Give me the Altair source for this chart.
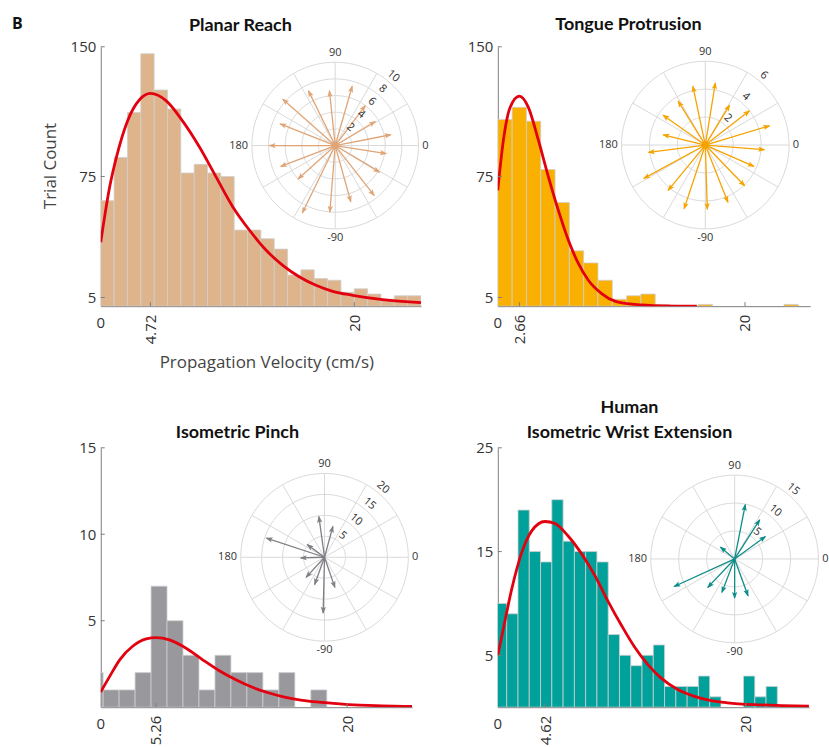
import altair as alt
import pandas as pd

FONT = "Open Sans"
TITLE_FONT = "Lato"
RED = "#E3000F"
AXIS_GRAY = "#7d7d7d"
GRID_GRAY = "#d9d9d9"
LABEL_COLOR = "#333333"

# ---------------- Planar Reach ----------------
planar_counts = [61, 86, 112, 146, 125, 114, 77, 82, 77, 75, 44, 44, 39, 33,
                 18, 21, 16, 15, 8, 10, 7, 4, 6, 6]
planar_bin_start = 1.0
planar_bin_width = 1.0
planar_fit_x = [1.0, 1.67, 2.17, 3.0, 3.92, 4.72, 5.91, 7.03, 8.41, 9.65, 10.9,
                12.15, 13.4, 14.64, 15.9, 17.13, 18.38, 19.88, 22.12, 25.0]
planar_fit_y = [37, 69, 86, 107, 119.5, 123, 118.7, 108.2, 91.9, 74.6, 57.4,
                43.9, 32.3, 23.6, 16.9, 12.1, 8.6, 6.3, 3.8, 2.1]
planar_mode = 4.72
planar_yticks = [5, 75, 150]
planar_dir_deg = [138.5, 116, 96, 74, 53, 31, 11, -9, -31, -52, -74.5, -94.6,
                  -116, -138, -159, 180, 158.5]
planar_dir_len = [8.4, 7.3, 6.6, 7.4, 6.0, 5.6, 6.8, 6.2, 6.2, 7.6, 7.0, 8.0,
                  9.0, 6.0, 7.0, 7.9, 7.1]
planar_rings = [2, 4, 6, 8, 10]

# ---------------- Tongue Protrusion ----------------
tongue_counts = [108, 115, 107, 79, 60, 32, 25, 15, 4, 6, 7, 1, 0, 0, 1, 0, 0,
                 0, 0, 0, 1]
tongue_bin_start = 1.0
tongue_bin_width = 1.1
tongue_fit_x = [1.0, 1.43, 1.95, 2.66, 3.35, 4.12, 4.89, 5.65, 6.42, 7.19, 7.96,
                8.98, 10.0, 11.5, 13.6, 16.3]
tongue_fit_y = [67, 96, 115, 121.5, 115, 96, 74.8, 55.5, 38.2, 24.7, 15.0, 7.3,
                2.9, 1.0, 0.2, 0.0]
tongue_mode = 2.66
tongue_yticks = [5, 75, 150]
tongue_dir_deg = [121.7, 101.9, 80.8, 58.7, 37.8, 16.7, -4.5, -23.7, -46, -68.4,
                  -88.2, -108.4, -129.3, -151.5, -172.7, 166.3, 144.7]
tongue_dir_len = [3.7, 4.3, 4.5, 3.35, 4.0, 4.8, 4.25, 3.8, 4.05, 4.4, 4.6, 4.8,
                  4.2, 5.0, 4.1, 3.1, 3.7]
tongue_rings = [2, 4, 6]

# ---------------- Isometric Pinch ----------------
pinch_counts = [2, 1, 1, 2, 7, 5, 3, 1, 3, 2, 2, 1, 2, 0, 1]
pinch_bin_start = -0.05
pinch_bin_width = 1.232
pinch_fit_x = [1.0, 1.69, 2.46, 3.48, 4.51, 5.26, 6.30, 7.58, 8.86, 10.14, 11.42,
               12.70, 13.98, 15.26, 16.54, 17.82, 20.13, 22.7, 25.0]
pinch_fit_y = [0.88, 1.78, 2.74, 3.54, 3.95, 4.02, 3.89, 3.41, 2.74, 2.11, 1.59,
               1.15, 0.82, 0.57, 0.40, 0.29, 0.15, 0.08, 0.04]
pinch_mode = 5.26
pinch_yticks = [5, 10, 15]
pinch_dir_deg = [161.7, 97.9, 74.8, 143.8, -178.4, -132.5, -110, -71, -91.4]
pinch_dir_len = [14.6, 9.8, 7.6, 5.1, 5.7, 6.5, 6.9, 7.6, 13.3]
pinch_rings = [5, 10, 15, 20]

# ---------------- Human Isometric Wrist Extension ----------------
wrist_counts = [10, 9, 19, 15, 14, 20, 16, 15, 15, 14, 7, 5, 4, 5, 6, 2, 2, 2, 3,
                1, 0, 0, 3, 1, 2]
wrist_bin_start = 0.82
wrist_bin_width = 0.864
wrist_fit_x = [1.0, 1.43, 2.07, 2.83, 3.60, 4.62, 5.38, 6.39, 7.41, 8.43, 9.45,
               10.47, 11.48, 12.5, 13.52, 14.79, 16.06, 17.34, 18.6, 21.15, 24.84]
wrist_fit_y = [4.98, 7.6, 11.4, 14.9, 17.0, 17.9, 17.7, 16.5, 14.8, 12.7, 10.2,
               7.9, 5.8, 4.1, 2.8, 1.7, 1.05, 0.64, 0.42, 0.22, 0.1]
wrist_mode = 4.62
wrist_yticks = [5, 15, 25]
wrist_dir_deg = [78.9, 57.3, 36.1, 140.2, -155.5, -133.3, -110.8, -90, -70]
wrist_dir_len = [9.9, 8.3, 6.8, 3.3, 11.9, 7.0, 6.4, 7.0, 7.0]
wrist_rings = [5, 10, 15]

X_START = 1.0          # leftmost axis position, labelled "0"
X_TICK_HIGH = 20
SPOKE_DEGS = list(range(0, 360, 30))
CIRCLE_STEPS = list(range(0, 361, 3))


def panel(title, counts, bin_start, bin_width, fit_x, fit_y, mode, yticks, ymax,
          dir_deg, dir_len, rings, bar_color, arrow_color, width, height, x_end,
          center, radius_px, title_pos, center_dot=False, first=False):
    W, H = width, height
    xs = alt.Scale(domain=[X_START, x_end], nice=False, zero=False)
    ys = alt.Scale(domain=[0, ymax], nice=False, zero=True)

    x_axis_kw = dict(values=[mode, X_TICK_HIGH], labelExpr="'' + datum.value",
                     labelAngle=-90, labelPadding=8, labelFont=FONT,
                     labelFontSize=15, labelColor=LABEL_COLOR, ticks=False,
                     tickSize=0, grid=False, domainColor=AXIS_GRAY,
                     labelOverlap=False, labelFlush=False, title=None)
    y_axis_kw = dict(values=yticks, labelExpr="'' + datum.value", labelPadding=5,
                     labelFont=FONT, labelFontSize=15, labelColor=LABEL_COLOR,
                     ticks=False, tickSize=0, grid=False, domainColor=AXIS_GRAY,
                     title=None)
    if first:
        x_axis_kw.update(title="Propagation Velocity (cm/s)", titleFont=FONT,
                         titleFontSize=17, titleFontWeight="normal",
                         titleColor="#444444", titleX=166, titleY=56,
                         titleBaseline="middle", titleAlign="center")
        y_axis_kw.update(title="Trial Count", titleFont=FONT, titleFontSize=17,
                         titleFontWeight="normal", titleColor="#444444",
                         titleX=-50, titleY=119, titleAngle=270,
                         titleBaseline="middle", titleAlign="center")
    xaxis = alt.Axis(**x_axis_kw)
    yaxis = alt.Axis(**y_axis_kw)

    bars_df = pd.DataFrame({"i": list(range(len(counts))), "count": counts})
    bars = alt.Chart(bars_df).transform_filter("datum.count > 0").transform_calculate(
        lo=f"{bin_start} + datum.i * {bin_width}",
        hi=f"{bin_start} + (datum.i + 1) * {bin_width}",
    ).mark_rect(clip=True, color=bar_color, stroke="#cfcfcf", strokeWidth=0.8).encode(
        x=alt.X("lo:Q", scale=xs, axis=xaxis),
        x2="hi:Q",
        y=alt.Y("count:Q", scale=ys, axis=yaxis),
        y2=alt.datum(0),
    )

    fit_df = pd.DataFrame({"lo": fit_x, "count": fit_y})
    curve = alt.Chart(fit_df).mark_line(color=RED, strokeWidth=2.8,
                                        interpolate="monotone", clip=True).encode(
        x=alt.X("lo:Q", scale=xs, axis=xaxis),
        y=alt.Y("count:Q", scale=ys, axis=yaxis),
    )

    xt_df = pd.DataFrame({"lo": [mode, X_TICK_HIGH]})
    xticks = alt.Chart(xt_df).mark_rule(color=AXIS_GRAY, strokeWidth=1).encode(
        x=alt.X("lo:Q", scale=xs, axis=xaxis),
        y=alt.value(H), y2=alt.value(H - 4),
    )
    yt_df = pd.DataFrame({"count": yticks})
    ytick_marks = alt.Chart(yt_df).mark_rule(color=AXIS_GRAY, strokeWidth=1).encode(
        y=alt.Y("count:Q", scale=ys, axis=yaxis),
        x=alt.value(0), x2=alt.value(4),
    )
    zero_df = pd.DataFrame({"lo": [X_START], "t": ["0"]})
    zero_lbl = alt.Chart(zero_df).mark_text(
        font=FONT, fontSize=15, color=LABEL_COLOR, baseline="top", align="center"
    ).encode(
        x=alt.X("lo:Q", scale=xs, axis=xaxis), y=alt.value(H + 10), text="t:N"
    )

    # panel heading drawn as a text mark so it does not move the layout
    tx, ty = title_pos
    title_df = pd.DataFrame({"t": [title]})
    title_mark = alt.Chart(title_df).mark_text(
        font=TITLE_FONT, fontSize=18, fontWeight="bold", color="#111111",
        align="center", baseline="alphabetic", lineBreak="\n", lineHeight=25
    ).encode(x=alt.value(tx), y=alt.value(ty), text="t:N")

    hist_layers = [bars, curve, xticks, ytick_marks, zero_lbl, title_mark]
    if first:
        b_df = pd.DataFrame({"t": ["B"]})
        hist_layers.append(
            alt.Chart(b_df).mark_text(font=FONT, fontSize=16, fontWeight="bold",
                                      color="#111111", align="left", baseline="top")
            .encode(x=alt.value(-89), y=alt.value(-31), text="t:N")
        )
    hist = alt.layer(*hist_layers)

    # ---- polar inset: independent scales placing the disc in the upper right
    cx, cy = center
    rmax = rings[-1]
    k = rmax / radius_px
    xp = alt.Scale(domain=[-cx * k, (W - cx) * k], nice=False, zero=False)
    yp = alt.Scale(domain=[-(H - cy) * k, cy * k], nice=False, zero=False)
    PX = lambda f: alt.X(f, type="quantitative", scale=xp, axis=None)
    PY = lambda f: alt.Y(f, type="quantitative", scale=yp, axis=None)

    ring_df = pd.DataFrame([{"ring": r, "deg": d} for r in rings for d in CIRCLE_STEPS])
    ring_lines = alt.Chart(ring_df).transform_calculate(
        px="datum.ring * cos(datum.deg * PI / 180)",
        py="datum.ring * sin(datum.deg * PI / 180)",
    ).mark_line(color=GRID_GRAY, strokeWidth=1).encode(
        x=PX("px"), y=PY("py"), detail="ring:N", order="deg:Q"
    )

    spoke_df = pd.DataFrame({"deg": SPOKE_DEGS})
    spokes = alt.Chart(spoke_df).transform_calculate(
        ox="0", oy="0",
        px=f"{rmax} * cos(datum.deg * PI / 180)",
        py=f"{rmax} * sin(datum.deg * PI / 180)",
    ).mark_rule(color=GRID_GRAY, strokeWidth=1).encode(
        x=PX("ox"), y=PY("oy"), x2="px:Q", y2="py:Q"
    )

    back = 3.2 * k
    arrow_df = pd.DataFrame({"deg": dir_deg, "len": dir_len})
    arrow_base = alt.Chart(arrow_df).transform_calculate(
        ox="0", oy="0",
        px="datum.len * cos(datum.deg * PI / 180)",
        py="datum.len * sin(datum.deg * PI / 180)",
        hx=f"(datum.len - {back}) * cos(datum.deg * PI / 180)",
        hy=f"(datum.len - {back}) * sin(datum.deg * PI / 180)",
        rot="(450 - datum.deg) % 360",
    )
    shafts = arrow_base.mark_rule(color=arrow_color, strokeWidth=1.3).encode(
        x=PX("ox"), y=PY("oy"), x2="px:Q", y2="py:Q"
    )
    heads = arrow_base.mark_point(
        shape="M0,-1L0.62,0.7L0,0.35L-0.62,0.7Z", filled=True, opacity=1,
        color=arrow_color, size=72, strokeWidth=0
    ).encode(x=PX("hx"), y=PY("hy"), angle=alt.Angle("rot:Q", scale=None))

    lab_off = 0.11 * rmax
    vert_df = pd.DataFrame({"px": [0, 0], "py": [rmax + lab_off, -(rmax + lab_off)],
                            "t": ["90", "-90"]})
    vert_lbl = alt.Chart(vert_df).mark_text(
        font=FONT, fontSize=11, color=LABEL_COLOR, baseline="middle", align="center"
    ).encode(x=PX("px"), y=PY("py"), text="t:N")
    side_gap = 0.045 * rmax
    left_lbl = alt.Chart(pd.DataFrame({"px": [-(rmax + side_gap)], "py": [0], "t": ["180"]})).mark_text(
        font=FONT, fontSize=11, color=LABEL_COLOR, baseline="middle", align="right"
    ).encode(x=PX("px"), y=PY("py"), text="t:N")
    right_lbl = alt.Chart(pd.DataFrame({"px": [rmax + side_gap], "py": [0], "t": ["0"]})).mark_text(
        font=FONT, fontSize=11, color=LABEL_COLOR, baseline="middle", align="left"
    ).encode(x=PX("px"), y=PY("py"), text="t:N")

    rad_df = pd.DataFrame({"ring": rings, "t": [str(r) for r in rings]})
    rad_lbl = alt.Chart(rad_df).transform_calculate(
        px=f"(datum.ring + {0.085 * rmax}) * cos(50 * PI / 180)",
        py=f"(datum.ring + {0.085 * rmax}) * sin(50 * PI / 180)",
    ).mark_text(font=FONT, fontSize=11, color=LABEL_COLOR, baseline="middle",
                align="center", angle=40).encode(x=PX("px"), y=PY("py"), text="t:N")

    polar_layers = [ring_lines, spokes, shafts, heads]
    if center_dot:
        polar_layers.append(
            alt.Chart(pd.DataFrame({"ox": [0], "oy": [0]})).mark_point(
                shape="circle", filled=True, opacity=1, color=arrow_color, size=55
            ).encode(x=PX("ox"), y=PY("oy"))
        )
    polar_layers += [vert_lbl, left_lbl, right_lbl, rad_lbl]
    polar = alt.layer(*polar_layers)

    return alt.layer(hist, polar).resolve_scale(
        x="independent", y="independent"
    ).properties(width=W, height=H)


p1 = panel("Planar Reach", planar_counts, planar_bin_start, planar_bin_width,
           planar_fit_x, planar_fit_y, planar_mode, planar_yticks, 150,
           planar_dir_deg, planar_dir_len, planar_rings, "#DEB48C", "#E0A577",
           321, 260, 25.0, (235, 99), 83.5, (140, -16), center_dot=True, first=True)
p2 = panel("Tongue Protrusion", tongue_counts, tongue_bin_start, tongue_bin_width,
           tongue_fit_x, tongue_fit_y, tongue_mode, tongue_yticks, 150,
           tongue_dir_deg, tongue_dir_len, tongue_rings, "#F9B000", "#F6A300",
           313, 260, 25.0, (208, 98.5), 84, (131, -17), center_dot=True)
p3 = panel("Isometric Pinch", pinch_counts, pinch_bin_start, pinch_bin_width,
           pinch_fit_x, pinch_fit_y, pinch_mode, pinch_yticks, 15,
           pinch_dir_deg, pinch_dir_len, pinch_rings, "#98989D", "#7F7F85",
           312, 260, 25.0, (224.3, 109.7), 84, (137, -9.5))
p4 = panel("Human\nIsometric Wrist Extension", wrist_counts, wrist_bin_start,
           wrist_bin_width, wrist_fit_x, wrist_fit_y, wrist_mode, wrist_yticks, 25,
           wrist_dir_deg, wrist_dir_len, wrist_rings, "#00A19A", "#0D8C88",
           312, 260, 24.85, (237.4, 111.4), 84, (132, -35))

chart = alt.concat(
    p1, p2, p3, p4, columns=2, spacing={"row": 142, "column": 77}, bounds="flush"
).properties(
    padding={"left": 12, "top": 15, "right": 0, "bottom": 0},
    background="white",
).configure_view(stroke=None)

chart.save("out.html", embed_options={"renderer": "svg", "actions": False})
